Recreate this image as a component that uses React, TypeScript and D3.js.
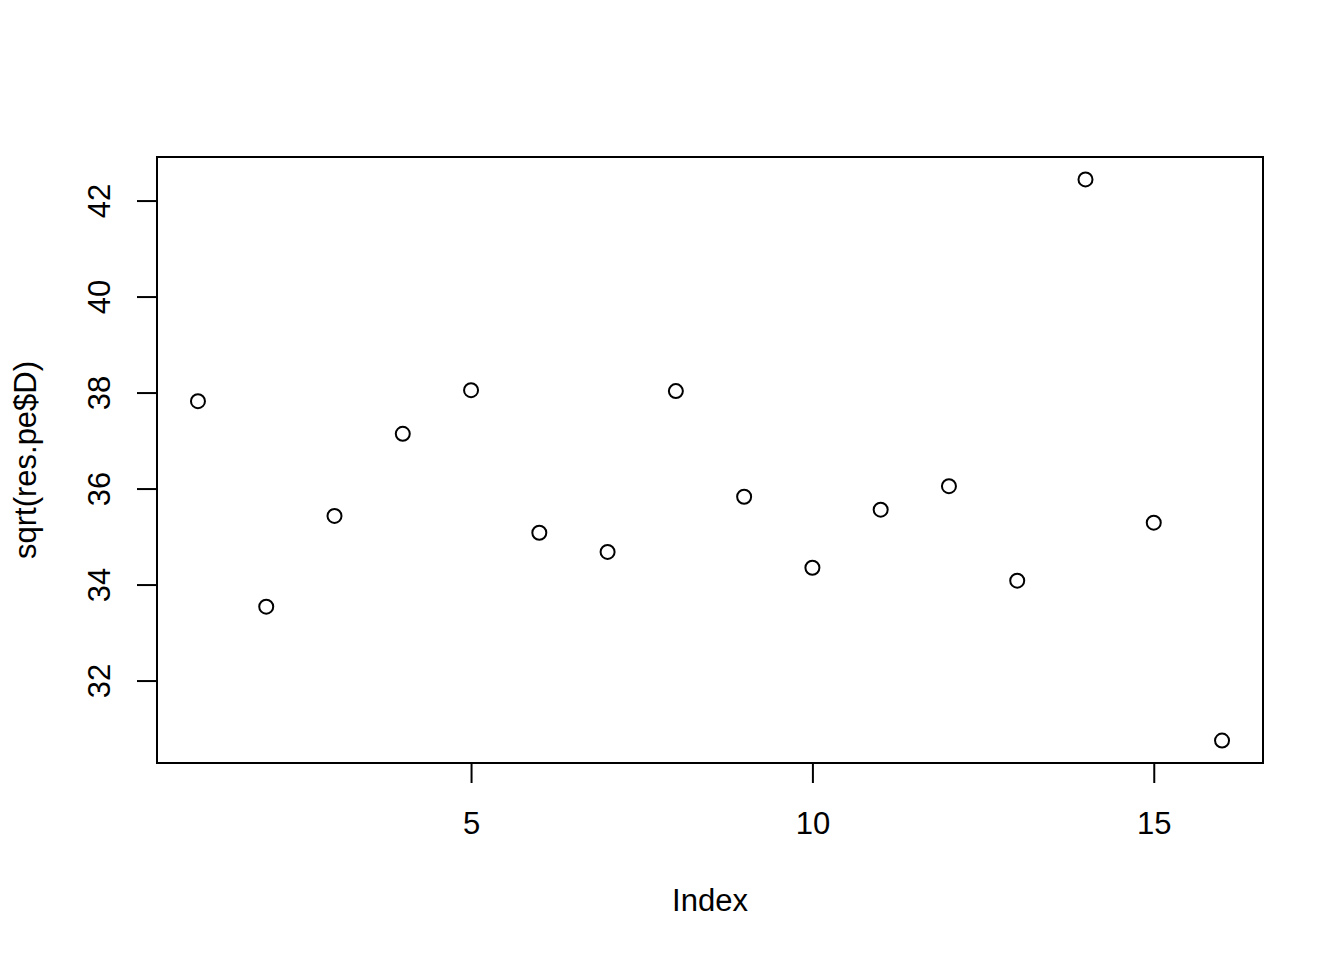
import React, { useEffect, useRef } from "react";
import * as d3 from "d3";

// sqrt(res.pe$D) per index
const indexValues = [1, 2, 3, 4, 5, 6, 7, 8, 9, 10, 11, 12, 13, 14, 15, 16];
const sqrtD = [
  37.82, 33.54, 35.43, 37.14, 38.05, 35.08, 34.68, 38.03, 35.83, 34.35, 35.56,
  36.05, 34.08, 42.44, 35.29, 30.75,
];
const xTicks = [5, 10, 15];
const yTicks = [32, 34, 36, 38, 40, 42];

const W = 1344;
const H = 960;
const box = { left: 157, right: 1263, top: 157, bottom: 763 };

// R style 4% extension of data range
const ext = (vals: number[]) => {
  const [a, b] = d3.extent(vals) as [number, number];
  const d = (b - a) * 0.04;
  return [a - d, b + d];
};

const App = () => {
  const ref = useRef<SVGSVGElement>(null);
  useEffect(() => {
    const svg = d3.select(ref.current);
    svg.selectAll("*").remove();
    const font = "'Liberation Sans', Arial, Helvetica, sans-serif";

    const x = d3.scaleLinear().domain(ext(indexValues)).range([box.left, box.right]);
    const y = d3.scaleLinear().domain(ext(sqrtD)).range([box.bottom, box.top]);

    svg
      .append("rect")
      .attr("x", box.left)
      .attr("y", box.top)
      .attr("width", box.right - box.left)
      .attr("height", box.bottom - box.top)
      .attr("fill", "none")
      .attr("stroke", "black")
      .attr("stroke-width", 2);

    const xAxis = svg
      .append("g")
      .attr("transform", `translate(0,${box.bottom})`)
      .call(d3.axisBottom(x).tickValues(xTicks).tickSize(20).tickPadding(29).tickFormat(d3.format("d")));
    xAxis.select(".domain").remove();
    xAxis.selectAll(".tick line").attr("stroke-width", 2);
    xAxis.selectAll(".tick text").attr("font-size", 31).attr("font-family", font).attr("fill", "black");

    const yAxis = svg
      .append("g")
      .attr("transform", `translate(${box.left},0)`)
      .call(d3.axisLeft(y).tickValues(yTicks).tickSize(20).tickFormat(d3.format("d")));
    yAxis.select(".domain").remove();
    yAxis.selectAll(".tick line").attr("stroke-width", 2);
    yAxis
      .selectAll(".tick text")
      .attr("x", null)
      .attr("dy", null)
      .attr("font-size", 31)
      .attr("font-family", font)
      .attr("fill", "black")
      .attr("text-anchor", "middle")
      .attr("transform", "translate(-47,0) rotate(-90)");

    svg
      .append("g")
      .selectAll("circle")
      .data(sqrtD)
      .join("circle")
      .attr("cx", (_, i) => x(indexValues[i]))
      .attr("cy", (d) => y(d))
      .attr("r", 7)
      .attr("fill", "none")
      .attr("stroke", "black")
      .attr("stroke-width", 2);

    svg
      .append("text")
      .attr("x", (box.left + box.right) / 2)
      .attr("y", 911)
      .attr("text-anchor", "middle")
      .attr("font-size", 31)
      .attr("font-family", font)
      .text("Index");

    svg
      .append("text")
      .attr("transform", `translate(36,${(box.top + box.bottom) / 2}) rotate(-90)`)
      .attr("text-anchor", "middle")
      .attr("font-size", 31)
      .attr("font-family", font)
      .text("sqrt(res.pe$D)");
  }, []);

  return (
    <svg
      ref={ref}
      width={W}
      height={H}
      style={{ position: "absolute", left: 0, top: 0, background: "white" }}
    />
  );
};

export default App;
